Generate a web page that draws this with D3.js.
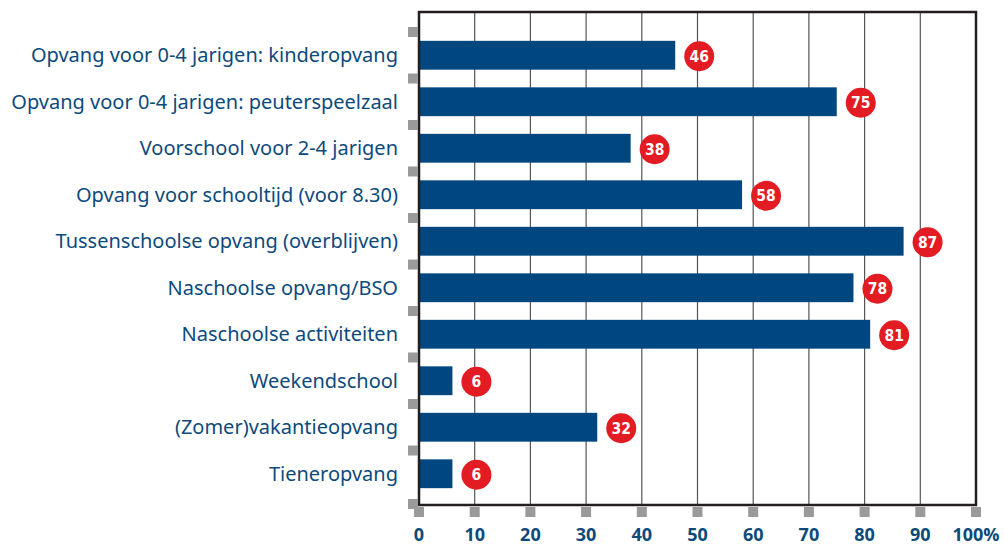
<!DOCTYPE html>
<html>
<head>
<meta charset="utf-8">
<script src="https://cdn.jsdelivr.net/npm/d3@7"></script>
<style>
  body { margin: 0; background: #fff; }
  svg { display: block; }
</style>
</head>
<body>
<script>
var categories = [
  "Opvang voor 0-4 jarigen: kinderopvang",
  "Opvang voor 0-4 jarigen: peuterspeelzaal",
  "Voorschool voor 2-4 jarigen",
  "Opvang voor schooltijd (voor 8.30)",
  "Tussenschoolse opvang (overblijven)",
  "Naschoolse opvang/BSO",
  "Naschoolse activiteiten",
  "Weekendschool",
  "(Zomer)vakantieopvang",
  "Tieneropvang"
];
var values = [46, 75, 38, 58, 87, 78, 81, 6, 32, 6];
var tickValues = [0, 10, 20, 30, 40, 50, 60, 70, 80, 90, 100];
var tickLabels = ["0", "10", "20", "30", "40", "50", "60", "70", "80", "90", "100%"];

var width = 1004, height = 548;
var plotLeft = 419, plotRight = 976, plotTop = 12, plotBottom = 505;
var blue = "#00467f", textBlue = "#0d4a7c", red = "#e31b23", grey = "#9a9a9a";

var svg = d3.select("body").append("svg")
  .attr("width", width).attr("height", height);

var x = d3.scaleLinear().domain([0, 100]).range([plotLeft, plotRight]);
var y = d3.scaleBand().domain(categories).range([32, 497]).paddingInner(0.38).paddingOuter(0.19);
var step = y.step();

// grid
svg.append("g").selectAll("line").data(tickValues.slice(1, -1))
  .join("line")
  .attr("x1", d => x(d)).attr("x2", d => x(d))
  .attr("y1", plotTop).attr("y2", plotBottom)
  .attr("stroke", "#555").attr("stroke-width", 1.2);

// bars
svg.append("g").selectAll("rect").data(values)
  .join("rect")
  .attr("x", x(0))
  .attr("y", (d, i) => y(categories[i]))
  .attr("width", d => x(d) - x(0))
  .attr("height", y.bandwidth())
  .attr("fill", blue);

// frame
svg.append("rect")
  .attr("x", plotLeft).attr("y", plotTop)
  .attr("width", plotRight - plotLeft).attr("height", plotBottom - plotTop)
  .attr("fill", "none").attr("stroke", "#231f20").attr("stroke-width", 2.5);

// left grey squares at band borders
var borders = d3.range(categories.length).map(i => 32 + i * step).concat([plotBottom - 1]);
svg.append("g").selectAll("rect").data(borders)
  .join("rect")
  .attr("x", plotLeft - 11).attr("y", d => d - 5)
  .attr("width", 10).attr("height", 10)
  .attr("fill", grey);

// bottom grey squares at ticks
svg.append("g").selectAll("rect").data(tickValues)
  .join("rect")
  .attr("x", d => x(d) - 5).attr("y", plotBottom + 2)
  .attr("width", 10).attr("height", 10)
  .attr("fill", grey);

// category labels
svg.append("g").selectAll("text").data(categories)
  .join("text")
  .attr("x", 398)
  .attr("y", d => y(d) + y.bandwidth() / 2)
  .attr("dy", "0.35em")
  .attr("text-anchor", "end")
  .attr("fill", textBlue)
  .style("font-family", "'Noto Sans', sans-serif")
  .style("font-size", "20px")
  .text(d => d);

// tick labels
svg.append("g").selectAll("text").data(tickValues)
  .join("text")
  .attr("x", d => x(d))
  .attr("y", 541)
  .attr("text-anchor", "middle")
  .attr("fill", textBlue)
  .style("font-family", "'Open Sans', sans-serif")
  .style("font-weight", "bold")
  .style("font-size", "18px")
  .text((d, i) => tickLabels[i]);

// value badges
var badge = svg.append("g").selectAll("g").data(values)
  .join("g")
  .attr("transform", (d, i) => "translate(" + (x(d) + 24) + "," + (y(categories[i]) + y.bandwidth() / 2 + 1) + ")");

badge.append("circle").attr("r", 15).attr("fill", red);
badge.append("text")
  .attr("text-anchor", "middle")
  .attr("dy", "0.36em")
  .attr("fill", "#fff")
  .style("font-family", "'DejaVu Sans Condensed', 'DejaVu Sans', sans-serif")
  .style("font-weight", "bold")
  .style("font-size", "15.5px")
  .text(d => d);
</script>
</body>
</html>
